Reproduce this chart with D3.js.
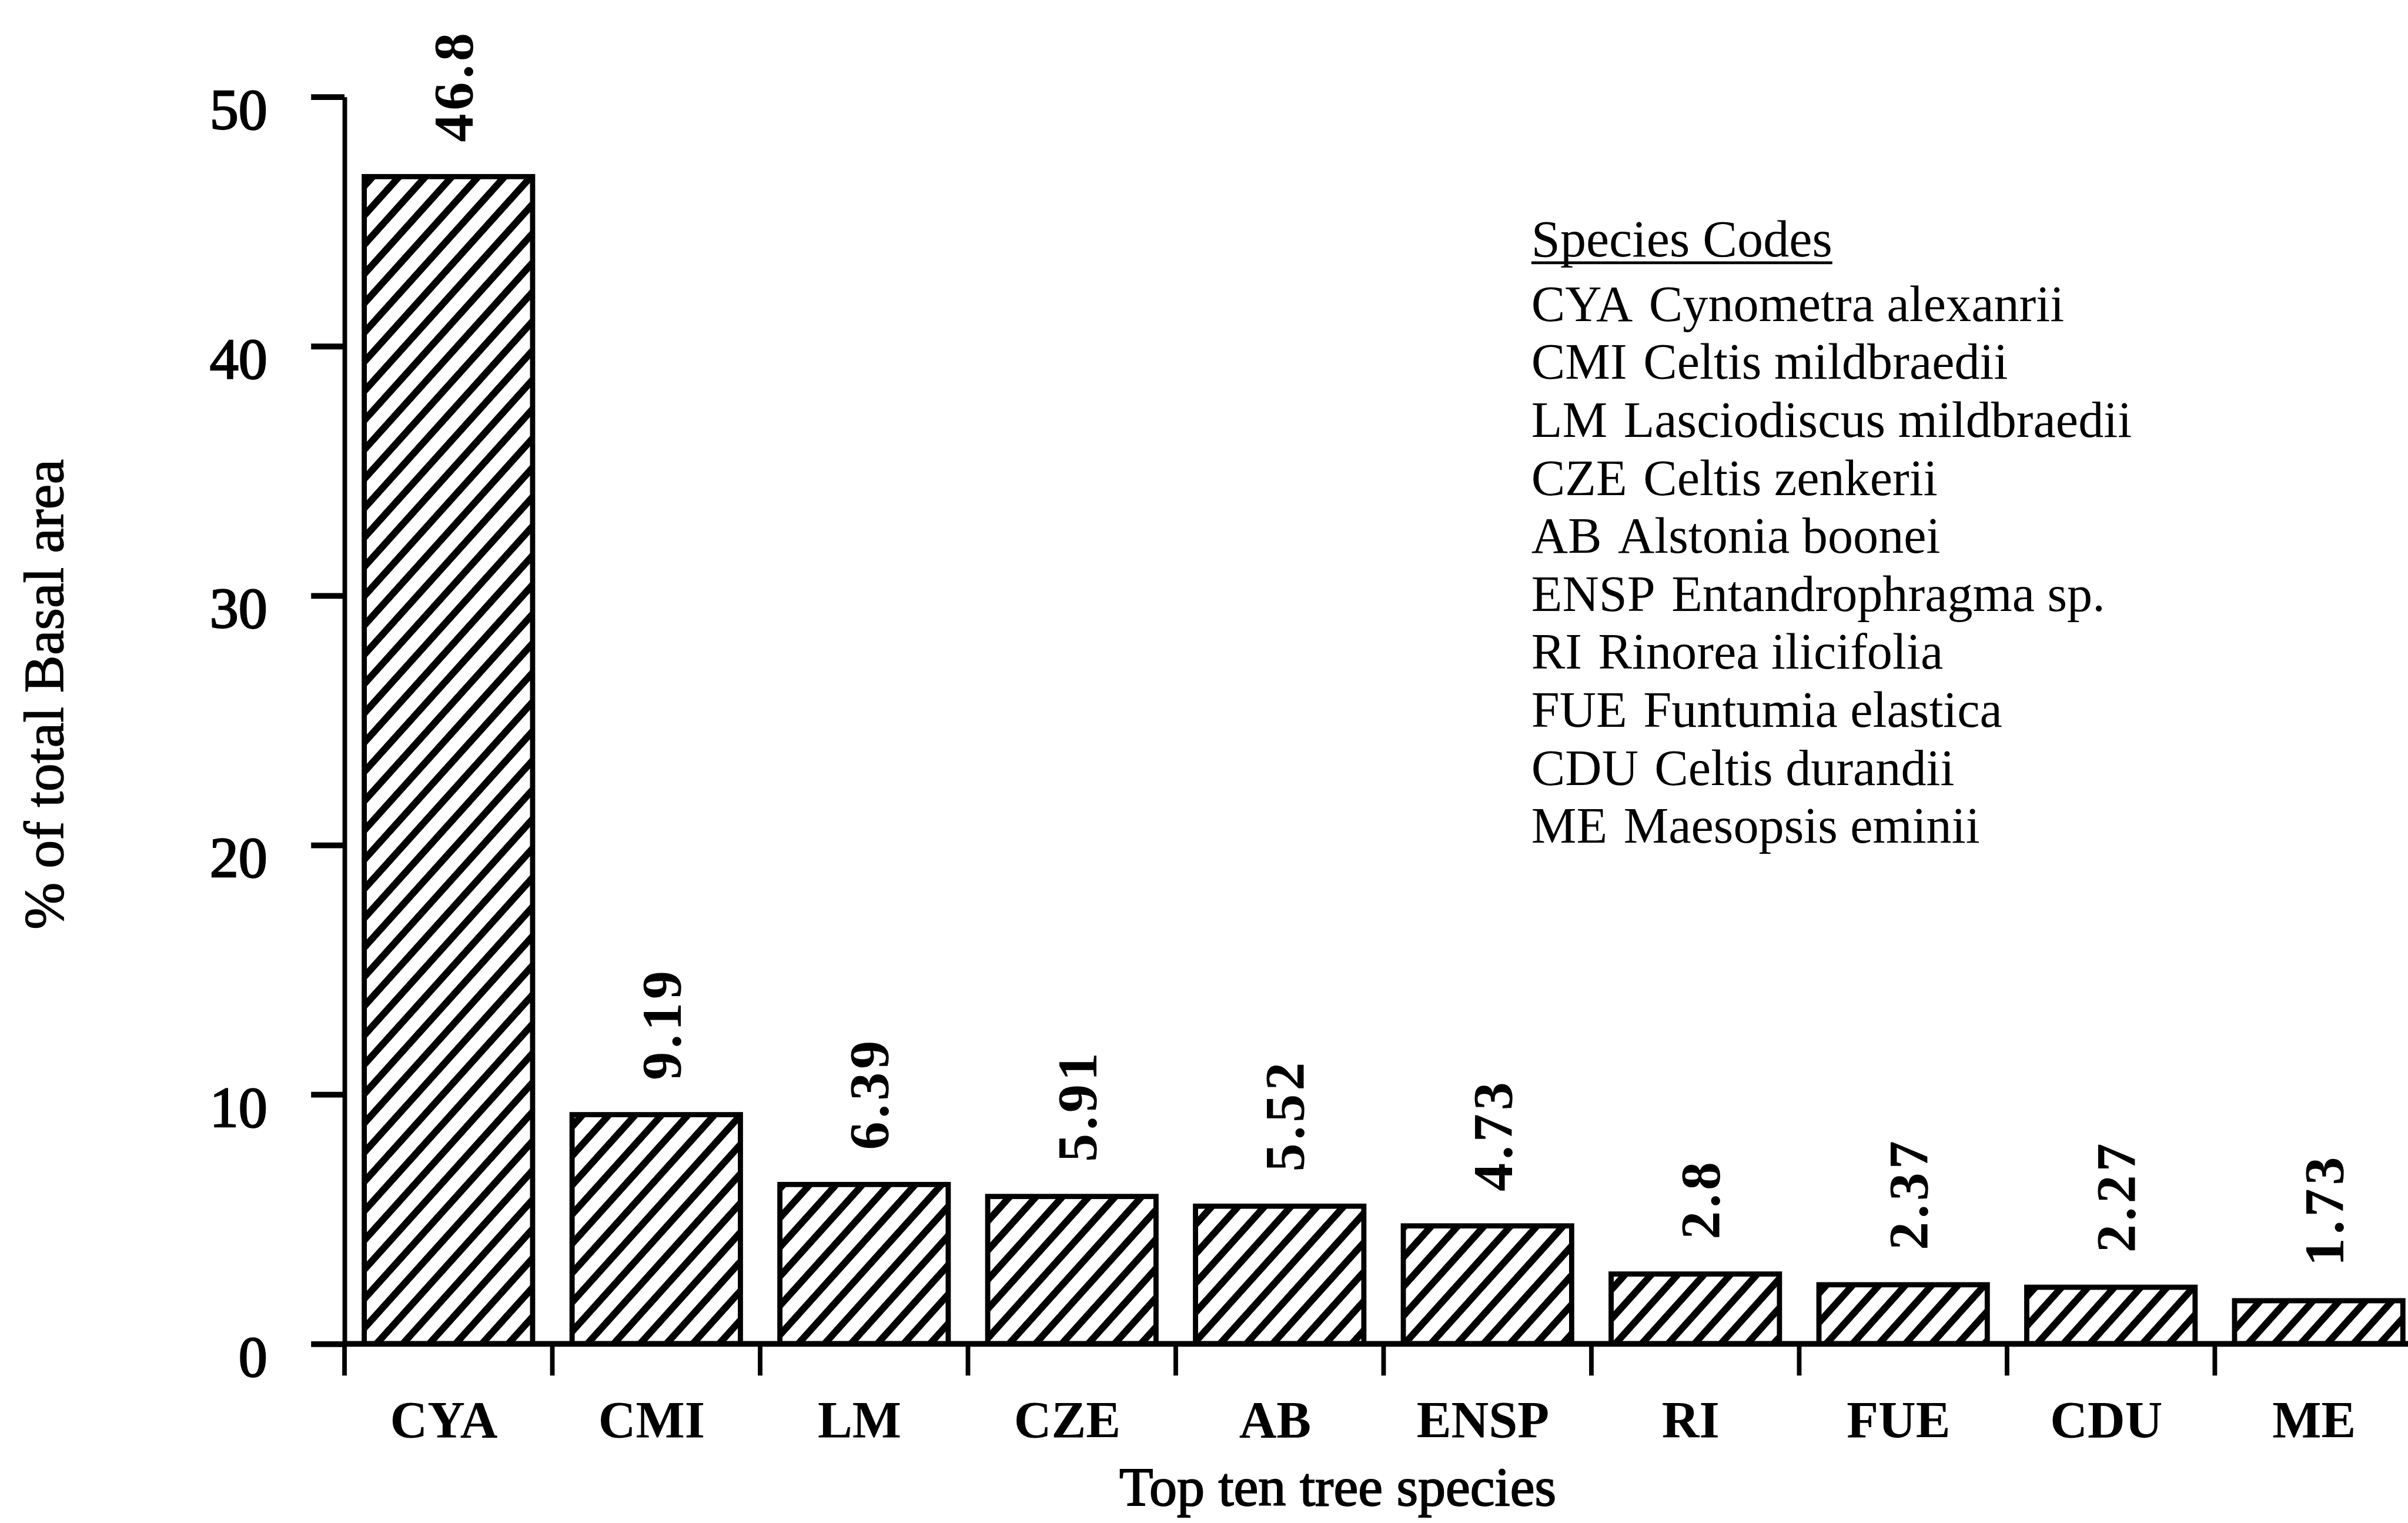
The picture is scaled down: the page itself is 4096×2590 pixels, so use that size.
<!DOCTYPE html>
<html>
<head>
<meta charset="utf-8">
<script src="https://cdn.jsdelivr.net/npm/d3@7.9.0/dist/d3.min.js"></script>
<style>
  html, body { margin: 0; padding: 0; background: #fff; }
  svg { display: block; }
</style>
</head>
<body>
<div id="chart"></div>
<script>
// values
const categories = ['CYA', 'CMI', 'LM', 'CZE', 'AB', 'ENSP', 'RI', 'FUE', 'CDU', 'ME'];
const values = [46.8, 9.19, 6.39, 5.91, 5.52, 4.73, 2.8, 2.37, 2.27, 1.73];
const valueLabels = ['46.8', '9.19', '6.39', '5.91', '5.52', '4.73', '2.8', '2.37', '2.27', '1.73'];
const yTicks = [0, 10, 20, 30, 40, 50];

const legendTitle = 'Species Codes';
const legendCodes = ['CYA', 'CMI', 'LM', 'CZE', 'AB', 'ENSP', 'RI', 'FUE', 'CDU', 'ME'];
const legendNames = [
  'Cynometra alexanrii',
  'Celtis mildbraedii',
  'Lasciodiscus mildbraedii',
  'Celtis zenkerii',
  'Alstonia boonei',
  'Entandrophragma sp.',
  'Rinorea ilicifolia',
  'Funtumia elastica',
  'Celtis durandii',
  'Maesopsis eminii',
];

const xTitle = 'Top ten tree species';
const yTitle = '% of total Basal area';

const width = 4096;
const height = 2590;
const S = 0.98; // drawn at 0.98 of the reference size

const svg = d3
  .select('#chart')
  .append('svg')
  .attr('width', width)
  .attr('height', height);

svg.append('rect').attr('width', width).attr('height', height).attr('fill', '#fff');

const defs = svg.append('defs');
const hatch = defs
  .append('pattern')
  .attr('id', 'hatch')
  .attr('patternUnits', 'userSpaceOnUse')
  .attr('width', 20)
  .attr('height', 34)
  .attr('patternTransform', 'rotate(-48)');
hatch.append('rect').attr('width', 20).attr('height', 34).attr('fill', '#fff');
hatch.append('rect').attr('y', 0).attr('width', 20).attr('height', 12).attr('fill', '#000');

// everything below is in reference pixels
const g = svg.append('g').attr('transform', `scale(${S})`);

const plot = { left: 598, right: 4205, top: 168, bottom: 2332 };

const x = d3
  .scaleBand()
  .domain(categories)
  .range([plot.left, plot.right])
  .paddingInner(0.19)
  .paddingOuter(0.095);

const y = d3
  .scaleLinear()
  .domain([0, 50])
  .range([plot.bottom, plot.top]);

const serif = '"Liberation Serif", "Times New Roman", serif';

// bars
g.append('g')
  .selectAll('rect')
  .data(values)
  .join('rect')
  .attr('x', (d, i) => x(categories[i]))
  .attr('y', (d) => y(d))
  .attr('width', x.bandwidth())
  .attr('height', (d) => y(0) - y(d))
  .attr('fill', 'url(#hatch)')
  .attr('stroke', '#000')
  .attr('stroke-width', 9);

// value labels, rotated
g.append('g')
  .selectAll('text')
  .data(values)
  .join('text')
  .attr('transform', (d, i) =>
    `translate(${x(categories[i]) + x.bandwidth() / 2 + 8}, ${y(d) - 60}) rotate(-90)`)
  .attr('dy', '0.35em')
  .attr('text-anchor', 'start')
  .attr('font-family', serif)
  .attr('font-weight', 'bold')
  .attr('font-size', 98)
  .attr('letter-spacing', 6)
  .attr('fill', '#000')
  .text((d, i) => valueLabels[i]);

// y axis
const yAxis = g
  .append('g')
  .attr('transform', `translate(${plot.left}, 0)`)
  .call(
    d3.axisLeft(y)
      .tickValues(yTicks)
      .tickSize(58)
      .tickSizeOuter(0)
      .tickPadding(76)
  );

yAxis.select('.domain').attr('stroke', '#000').attr('stroke-width', 8);
yAxis.selectAll('.tick line').attr('stroke', '#000').attr('stroke-width', 10);
yAxis
  .selectAll('.tick text')
  .attr('font-family', serif)
  .attr('font-size', 100)
  .attr('dy', '0.55em')
  .attr('fill', '#000')
  .attr('stroke', '#000')
  .attr('stroke-width', 2.5);

// x axis baseline and ticks at band boundaries
g.append('line')
  .attr('x1', plot.left)
  .attr('x2', plot.right)
  .attr('y1', y(0))
  .attr('y2', y(0))
  .attr('stroke', '#000')
  .attr('stroke-width', 10);

const boundaries = categories.map((c) => x(c) - (x.step() - x.bandwidth()) / 2);

g.append('g')
  .selectAll('line')
  .data(boundaries)
  .join('line')
  .attr('x1', (d) => d)
  .attr('x2', (d) => d)
  .attr('y1', y(0))
  .attr('y2', y(0) + 55)
  .attr('stroke', '#000')
  .attr('stroke-width', 8);

// category labels
g.append('g')
  .selectAll('text')
  .data(categories)
  .join('text')
  .attr('x', (d) => x(d) + x.bandwidth() / 2 - 8)
  .attr('y', 2494)
  .attr('text-anchor', 'middle')
  .attr('font-family', serif)
  .attr('font-weight', 'bold')
  .attr('font-size', 90)
  .attr('fill', '#000')
  .text((d) => d);

// axis titles
g.append('text')
  .attr('x', 2322)
  .attr('y', 2612)
  .attr('text-anchor', 'middle')
  .attr('font-family', serif)
  .attr('font-size', 96)
  .attr('fill', '#000')
  .attr('stroke', '#000')
  .attr('stroke-width', 2)
  .text(xTitle);

g.append('text')
  .attr('transform', 'translate(75, 1205) rotate(-90)')
  .attr('dy', '0.35em')
  .attr('text-anchor', 'middle')
  .attr('font-family', serif)
  .attr('font-size', 98)
  .attr('fill', '#000')
  .attr('stroke', '#000')
  .attr('stroke-width', 1.5)
  .text(yTitle);

// species code legend
const legend = g.append('g').attr('transform', 'translate(2658, 0)');

const title = legend
  .append('text')
  .attr('x', 0)
  .attr('y', 445)
  .attr('font-family', serif)
  .attr('font-size', 90)
  .attr('fill', '#000')
  .text(legendTitle);

const titleWidth = title.node().getComputedTextLength();
legend
  .append('line')
  .attr('x1', 0)
  .attr('x2', titleWidth)
  .attr('y1', 456)
  .attr('y2', 456)
  .attr('stroke', '#000')
  .attr('stroke-width', 5);

const rows = legend
  .selectAll('text.row')
  .data(legendCodes)
  .join('text')
  .attr('class', 'row')
  .attr('x', 0)
  .attr('y', (d, i) => 557 + i * 100.6)
  .attr('font-family', serif)
  .attr('font-size', 88)
  .attr('fill', '#000');

rows.append('tspan').text((d) => d);
rows
  .append('tspan')
  .attr('dx', 28)
  .text((d, i) => legendNames[i]);
</script>
</body>
</html>
